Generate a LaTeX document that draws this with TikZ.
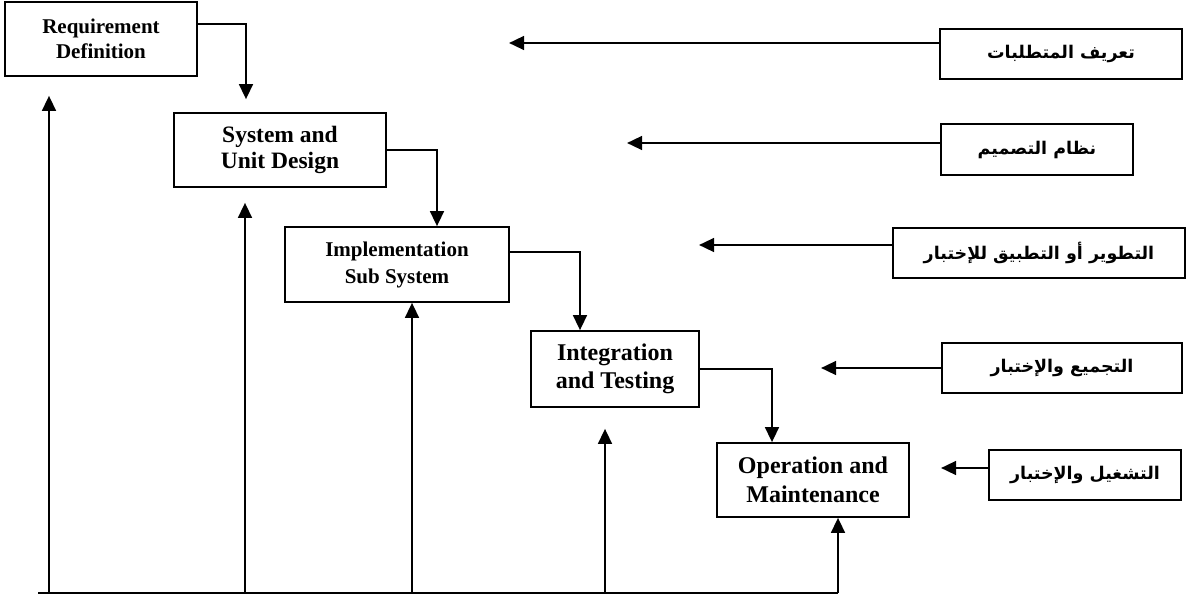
\documentclass[tikz,border=0pt]{standalone}
\usepackage{fontspec}
\setmainfont{Liberation Serif}
\newfontfamily\arabicfont[Script=Arabic]{DejaVu Sans}
\TeXXeTstate=1
\usetikzlibrary{arrows.meta}

\tikzset{
  box/.style={draw, line width=1.8pt, align=center, inner sep=0pt},
  abox/.style={box, font=\arabicfont\bfseries\fontsize{17.5}{20}\selectfont},
  link/.style={line width=1.6pt, -{Triangle[length=15pt,width=14pt]}}
}

\begin{document}
\begin{tikzpicture}[x=1pt,y=-1pt]
\useasboundingbox (0,0) rectangle (1192,599);

% phases
\node [box, minimum width=192, minimum height=74, font=\bfseries\fontsize{21}{25}\selectfont] (req) at (101,39) {Requirement\\Definition};
\node [box, minimum width=212, minimum height=74, font=\bfseries\fontsize{23.5}{26}\selectfont] (sys) at (280,150) {System and\\Unit Design};
\node [box, minimum width=224, minimum height=75, font=\bfseries\fontsize{21}{27}\selectfont] (imp) at (397,264.5) {Implementation\\Sub System};
\node [box, minimum width=168, minimum height=76, font=\bfseries\fontsize{24}{28}\selectfont] (intg) at (615,369) {Integration\\and Testing};
\node [box, minimum width=192, minimum height=74, font=\bfseries\fontsize{24}{29}\selectfont] (oper) at (813,480) {Operation and\\Maintenance};

% phases going down
\draw [link] ([yshift=15]req.east) -| ([xshift=-34,yshift=13]sys.north);
\draw [link] (sys.east) -| ([xshift=40]imp.north);
\draw [link] ([yshift=12.5]imp.east) -| ([xshift=-35]intg.north);
\draw [link] (intg.east) -| ([xshift=-41]oper.north);

% feedback
\coordinate (base) at (38,593);
\coordinate (u1) at ([xshift=-52,yshift=-19]req.south);
\coordinate (u2) at ([xshift=-35,yshift=-15]sys.south);
\coordinate (u3) at ([xshift=15]imp.south);
\coordinate (u4) at ([xshift=-10,yshift=-21]intg.south);
\coordinate (u5) at ([xshift=25]oper.south);
\draw [line width=1.6pt] (base) -- (base -| u5);
\foreach \u in {u1,u2,u3,u4,u5}
  \draw [link] (base -| \u) -- (\u);

% arabic labels
\node [abox, minimum width=242, minimum height=50] (a1) at (1061,54) {\beginR تعريف المتطلبات\endR};
\node [abox, minimum width=192, minimum height=51] (a2) at (1037,149.5) {\beginR نظام التصميم\endR};
\node [abox, minimum width=292, minimum height=50] (a3) at (1039,253) {\beginR التطوير أو التطبيق للإختبار\endR};
\node [abox, minimum width=240, minimum height=50] (a4) at (1062,368) {\beginR التجميع والإختبار\endR};
\node [abox, minimum width=192, minimum height=50] (a5) at (1085,475) {\beginR التشغيل والإختبار\endR};

\foreach \n/\d/\s in {a1/430/11, a2/313/6.5, a3/193/8, a4/120/0, a5/47/7}
  \draw [link] ([yshift=\s]\n.west) -- ++(-\d,0);

\end{tikzpicture}
\end{document}
